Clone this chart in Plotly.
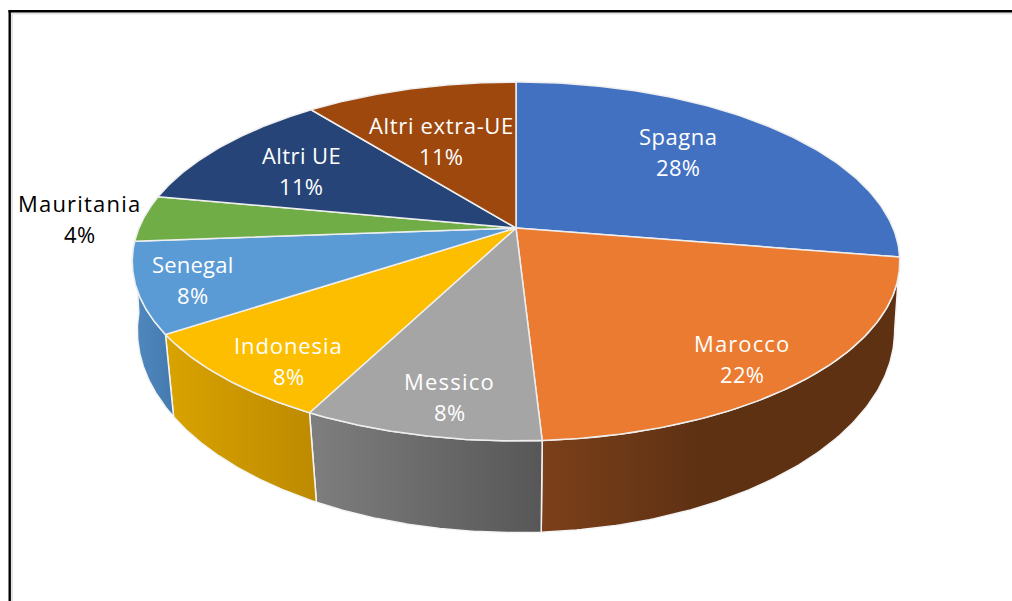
"""3D style pie chart of import shares, drawn with filled scatter traces."""

import numpy as np
import plotly.graph_objects as go

# data (clockwise from 12 o'clock)
categories = ["Spagna", "Marocco", "Messico", "Indonesia", "Senegal", "Mauritania", "Altri UE", "Altri extra-UE"]
shares = [27.6, 21.5, 8.45, 8.15, 8.1, 4.2, 11.3, 10.7]

top_colors = ["#4271c2", "#eb7b30", "#a5a5a5", "#fdbe00", "#5b9bd5", "#70ad47", "#264478", "#9e480e"]
# side wall gradient: left colour, right colour, and where the right colour is reached
wall_colors = {
    "Marocco": ("#7c401a", "#5e3113", 0.45),
    "Messico": ("#7e7e7e", "#575757", 1),
    "Indonesia": ("#d9a300", "#bd8a00", 1),
    "Senegal": ("#5189c0", "#447aae", 1),
}

# label centres in page pixels and letter spacing of the names
label_pos = {
    "Spagna": (678, 136),
    "Marocco": (742, 343),
    "Messico": (449, 381),
    "Indonesia": (288, 345),
    "Senegal": (192, 264),
    "Mauritania": (79, 203),
    "Altri UE": (301, 155),
    "Altri extra-UE": (441, 125),
}
name_spacing = {
    "Spagna": 0.5,
    "Marocco": 1.1,
    "Messico": 1.2,
    "Indonesia": 0.9,
    "Senegal": 0.2,
    "Mauritania": 1.2,
    "Altri UE": 0.4,
    "Altri extra-UE": 0.65,
}
LINE_GAP = 31
FONT = "Open Sans"
FONT_SIZE = 22

# perspective of the two discs: centre x, centre y, x scale, y scale, depth factor
TOP_DISC = (516, 228, 377, 173.2, 0.1866)
BOTTOM_DISC = (516, 297.5, 373.6, 196.8, 0.163)


def project(theta, disc):
    """Map clockwise angle (radians from 12 o'clock) onto a disc in page pixels."""
    cx, cy, sx, sy, k = disc
    x_unit = np.sin(theta)
    y_unit = np.cos(theta)
    w = 1 + k * y_unit
    return cx + sx * x_unit / w, cy - sy * y_unit / w


fig = go.Figure()

edges = np.concatenate([[0], np.cumsum(shares)]) / sum(shares) * 2 * np.pi
arcs = [np.linspace(a, b, 120) for a, b in zip(edges[:-1], edges[1:])]

# side walls first, only the slices that face the viewer
for name, arc in zip(categories, arcs):
    if name not in wall_colors:
        continue
    x_top, y_top = project(arc, TOP_DISC)
    x_bot, y_bot = project(arc[::-1], BOTTOM_DISC)
    c_left, c_right, stop = wall_colors[name]
    scale = [[0, c_left], [stop, c_right]] + ([[1, c_right]] if stop < 1 else [])
    fig.add_trace(go.Scatter(
        x=np.concatenate([x_top, x_bot, x_top[:1]]),
        y=np.concatenate([y_top, y_bot, y_top[:1]]),
        mode="lines",
        fill="toself",
        fillgradient=dict(type="horizontal", colorscale=scale),
        line=dict(color="#f4f4f4", width=1.5),
        hoverinfo="skip",
        showlegend=False,
    ))

# top surface
for name, arc, color in zip(categories, arcs, top_colors):
    x_arc, y_arc = project(arc, TOP_DISC)
    x_mid, y_mid = project(np.array([0.0]), (TOP_DISC[0], TOP_DISC[1], 0, 0, 0))
    fig.add_trace(go.Scatter(
        x=np.concatenate([x_mid, x_arc, x_mid]),
        y=np.concatenate([y_mid, y_arc, y_mid]),
        mode="lines",
        fill="toself",
        fillcolor=color,
        line=dict(color="#eeeeee", width=1.5),
        name=name,
        hoverinfo="name",
        showlegend=False,
    ))

# two separate annotations per label, the line gap is wider than plotly's default
for name, share in zip(categories, shares):
    px_x, px_y = label_pos[name]
    text_color = "black" if name == "Mauritania" else "white"
    lines = [(name, name_spacing[name]), (f"{round(share)}%", 0.3)]
    for i, (text, spacing) in enumerate(lines):
        fig.add_annotation(
            x=px_x, y=px_y + i * LINE_GAP,
            text=f'<span style="letter-spacing:{spacing}px">{text}</span>',
            showarrow=False,
            xanchor="center", yanchor="middle",
            font=dict(family=FONT, size=FONT_SIZE, color=text_color),
        )

fig.update_layout(
    width=1012,
    height=601,
    margin=dict(l=0, r=0, t=0, b=0),
    paper_bgcolor="white",
    plot_bgcolor="white",
    xaxis=dict(range=[0, 1012], visible=False, fixedrange=True),
    yaxis=dict(range=[601, 0], visible=False, fixedrange=True),
    shapes=[
        # frame of the pasted picture: soft shadow, then top and left rules
        dict(type="line", xref="x", yref="y", x0=11, x1=1012, y0=13.5, y1=13.5, line=dict(color="#e4e4e4", width=2)),
        dict(type="line", xref="x", yref="y", x0=12, x1=12, y0=12, y1=601, line=dict(color="#e4e4e4", width=2)),
        dict(type="line", xref="x", yref="y", x0=8.5, x1=1012, y0=11.2, y1=11.2, line=dict(color="black", width=2.4)),
        dict(type="line", xref="x", yref="y", x0=9.7, x1=9.7, y0=10, y1=601, line=dict(color="black", width=2.4)),
    ],
)

fig.write_html(
    "out.html",
    config=dict(displayModeBar=False),
    post_script="document.body.style.margin='0';",
)
